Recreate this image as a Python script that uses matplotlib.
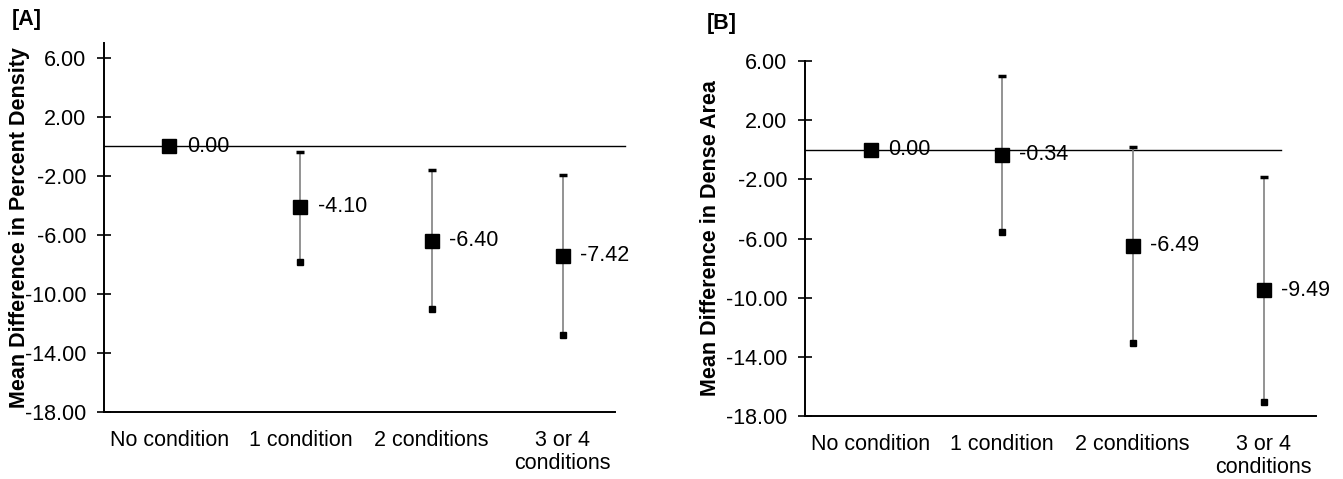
import matplotlib as mpl
import matplotlib.pyplot as plt

mpl.use('Agg')

plt.rcParams['font.family'] = ['Liberation Sans', 'DejaVu Sans']
plt.rcParams['axes.unicode_minus'] = False

categories = ['No condition', '1 condition', '2 conditions', '3 or 4\nconditions']
y_ticks = [6, 2, -2, -6, -10, -14, -18]
y_tick_labels = ['6.00', '2.00', '-2.00', '-6.00', '-10.00', '-14.00', '-18.00']

density_mean = [0.00, -4.10, -6.40, -7.42]
density_upper = [0.00, -0.35, -1.63, -1.91]
density_lower = [0.00, -7.85, -11.05, -12.75]

area_mean = [0.00, -0.34, -6.49, -9.49]
area_upper = [0.00, 5.01, 0.16, -1.82]
area_lower = [0.00, -5.53, -13.06, -17.03]

FS = 15.5


def draw_panel(ax, mean, upper, lower, ylabel, ytop, zero_end, label_x):
    xs = list(range(len(categories)))
    for x, lo, hi in zip(xs, lower, upper):
        if lo == hi:
            continue
        ax.plot([x, x], [lo, hi], color='#808080', lw=1.2, zorder=2)
        ax.plot([x], [hi], marker='_', color='black', ms=6, mew=2.5, zorder=3)
        ax.plot([x], [lo], marker='s', color='black', ms=5, zorder=3)
    ax.plot([-0.5, zero_end], [0, 0], color='black', lw=1.0, zorder=1, clip_on=False)
    ax.plot(xs, mean, ls='none', marker='s', color='black', ms=10, zorder=4)
    for x, m in zip(xs, mean):
        ax.annotate('%.2f' % m, (x, m), xytext=(12.5, 0), textcoords='offset points',
                    ha='left', va='center', fontsize=FS, zorder=5)
    ax.set_xlim(-0.5, 3.4)
    ax.set_ylim(-18, ytop)
    ax.set_yticks(y_ticks)
    ax.set_yticklabels(y_tick_labels)
    ax.set_xticks(xs)
    ax.set_xticklabels(categories, linespacing=1.12)
    ax.tick_params(axis='y', direction='inout', length=9.5, width=1.2, labelsize=FS, pad=8)
    ax.tick_params(axis='x', length=0, labelsize=FS, pad=13)
    for side in ['top', 'right']:
        ax.spines[side].set_visible(False)
    for side in ['left', 'bottom']:
        ax.spines[side].set_linewidth(1.4)
    ax.set_ylabel(ylabel, fontsize=FS, fontweight='bold')
    ax.yaxis.set_label_coords(label_x, 0.5)


fig = plt.figure(figsize=(13.43, 4.79), dpi=100)
ax_a = fig.add_axes([0.0774, 0.1399, 0.3805, 0.770])
ax_b = fig.add_axes([0.5994, 0.1315, 0.3805, 0.741])

draw_panel(ax_a, density_mean, density_upper, density_lower,
           'Mean Difference in Percent Density', 7, 3.48, -0.145)
draw_panel(ax_b, area_mean, area_upper, area_lower,
           'Mean Difference in Dense Area', 6, 3.13, -0.164)

fig.text(12 / 1343, 1 - 20 / 479, '[A]', fontsize=FS, fontweight='bold', va='center')
fig.text(707 / 1343, 1 - 24 / 479, '[B]', fontsize=FS, fontweight='bold', va='center')

fig.savefig('out.png', dpi=100)
